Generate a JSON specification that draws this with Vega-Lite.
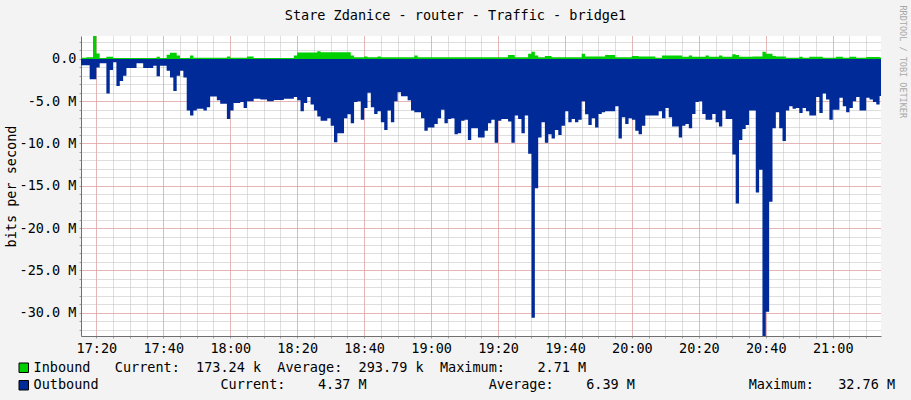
{
  "$schema": "https://vega.github.io/schema/vega-lite/v6.json",
  "width": 800,
  "height": 300,
  "autosize": {"type": "none"},
  "padding": {"left": 81, "top": 36, "right": 30, "bottom": 64},
  "background": "#F3F3F3",
  "config": {
    "font": "DejaVu Sans Mono",
    "view": {"fill": "#FFFFFF", "stroke": null},
    "axis": {"labelFont": "DejaVu Sans Mono", "labelFontSize": 13.5, "labelColor": "#000000", "titleFont": "DejaVu Sans Mono", "titleFontSize": 13.5, "titleFontWeight": "normal", "titleColor": "#000000"}
  },
  "datasets": {
    "outbound": [
      {"t":"2024-01-01T17:15","v":-750000},{"t":"2024-01-01T17:18","v":-2400000},{"t":"2024-01-01T17:20","v":-1000000},{"t":"2024-01-01T17:21","v":-500000},
      {"t":"2024-01-01T17:23","v":-4100000},{"t":"2024-01-01T17:24","v":-1300000},{"t":"2024-01-01T17:25","v":-400000},{"t":"2024-01-01T17:26","v":-3200000},
      {"t":"2024-01-01T17:27","v":-2600000},{"t":"2024-01-01T17:28","v":-2000000},{"t":"2024-01-01T17:29","v":-1060000},{"t":"2024-01-01T17:32","v":-500000},
      {"t":"2024-01-01T17:34","v":-1060000},{"t":"2024-01-01T17:37","v":-800000},{"t":"2024-01-01T17:38","v":-2050000},{"t":"2024-01-01T17:39","v":-800000},
      {"t":"2024-01-01T17:41","v":-1400000},{"t":"2024-01-01T17:42","v":-2200000},{"t":"2024-01-01T17:43","v":-3800000},{"t":"2024-01-01T17:44","v":-2000000},
      {"t":"2024-01-01T17:45","v":-1400000},{"t":"2024-01-01T17:46","v":-2200000},{"t":"2024-01-01T17:47","v":-6100000},{"t":"2024-01-01T17:48","v":-6700000},
      {"t":"2024-01-01T17:49","v":-6100000},{"t":"2024-01-01T17:50","v":-5900000},{"t":"2024-01-01T17:52","v":-6100000},{"t":"2024-01-01T17:53","v":-5700000},
      {"t":"2024-01-01T17:54","v":-4450000},{"t":"2024-01-01T17:56","v":-4900000},{"t":"2024-01-01T17:57","v":-5300000},{"t":"2024-01-01T17:59","v":-7100000},
      {"t":"2024-01-01T18:00","v":-6100000},{"t":"2024-01-01T18:01","v":-5200000},{"t":"2024-01-01T18:03","v":-5100000},{"t":"2024-01-01T18:04","v":-5800000},
      {"t":"2024-01-01T18:05","v":-5000000},{"t":"2024-01-01T18:07","v":-4700000},{"t":"2024-01-01T18:09","v":-4800000},{"t":"2024-01-01T18:11","v":-5000000},
      {"t":"2024-01-01T18:13","v":-4850000},{"t":"2024-01-01T18:16","v":-4700000},{"t":"2024-01-01T18:19","v":-4500000},{"t":"2024-01-01T18:20","v":-4900000},
      {"t":"2024-01-01T18:21","v":-6200000},{"t":"2024-01-01T18:22","v":-5200000},{"t":"2024-01-01T18:23","v":-4500000},{"t":"2024-01-01T18:24","v":-5400000},
      {"t":"2024-01-01T18:25","v":-6100000},{"t":"2024-01-01T18:26","v":-6800000},{"t":"2024-01-01T18:27","v":-7300000},{"t":"2024-01-01T18:29","v":-7000000},
      {"t":"2024-01-01T18:30","v":-7900000},{"t":"2024-01-01T18:31","v":-9850000},{"t":"2024-01-01T18:32","v":-8800000},{"t":"2024-01-01T18:34","v":-7000000},
      {"t":"2024-01-01T18:35","v":-6550000},{"t":"2024-01-01T18:36","v":-7600000},{"t":"2024-01-01T18:37","v":-5100000},{"t":"2024-01-01T18:38","v":-5000000},
      {"t":"2024-01-01T18:39","v":-7200000},{"t":"2024-01-01T18:40","v":-5800000},{"t":"2024-01-01T18:41","v":-4000000},{"t":"2024-01-01T18:42","v":-5700000},
      {"t":"2024-01-01T18:43","v":-6500000},{"t":"2024-01-01T18:44","v":-6200000},{"t":"2024-01-01T18:45","v":-7500000},{"t":"2024-01-01T18:46","v":-8400000},
      {"t":"2024-01-01T18:47","v":-6100000},{"t":"2024-01-01T18:48","v":-7500000},{"t":"2024-01-01T18:49","v":-5000000},{"t":"2024-01-01T18:50","v":-3950000},
      {"t":"2024-01-01T18:51","v":-4400000},{"t":"2024-01-01T18:53","v":-4900000},{"t":"2024-01-01T18:54","v":-6100000},{"t":"2024-01-01T18:55","v":-6300000},
      {"t":"2024-01-01T18:57","v":-7000000},{"t":"2024-01-01T18:58","v":-8500000},{"t":"2024-01-01T18:59","v":-8100000},{"t":"2024-01-01T19:01","v":-7700000},
      {"t":"2024-01-01T19:02","v":-7000000},{"t":"2024-01-01T19:03","v":-6000000},{"t":"2024-01-01T19:04","v":-7600000},{"t":"2024-01-01T19:05","v":-7100000},
      {"t":"2024-01-01T19:06","v":-7000000},{"t":"2024-01-01T19:07","v":-8900000},{"t":"2024-01-01T19:08","v":-8800000},{"t":"2024-01-01T19:09","v":-7300000},
      {"t":"2024-01-01T19:10","v":-7200000},{"t":"2024-01-01T19:11","v":-9600000},{"t":"2024-01-01T19:12","v":-8200000},{"t":"2024-01-01T19:14","v":-9300000},
      {"t":"2024-01-01T19:16","v":-8500000},{"t":"2024-01-01T19:17","v":-7600000},{"t":"2024-01-01T19:18","v":-7200000},{"t":"2024-01-01T19:19","v":-9900000},
      {"t":"2024-01-01T19:20","v":-7300000},{"t":"2024-01-01T19:21","v":-7100000},{"t":"2024-01-01T19:23","v":-7400000},{"t":"2024-01-01T19:24","v":-9900000},
      {"t":"2024-01-01T19:25","v":-6700000},{"t":"2024-01-01T19:26","v":-7100000},{"t":"2024-01-01T19:27","v":-8800000},{"t":"2024-01-01T19:28","v":-6700000},
      {"t":"2024-01-01T19:29","v":-11200000},{"t":"2024-01-01T19:30","v":-30600000},{"t":"2024-01-01T19:31","v":-15300000},{"t":"2024-01-01T19:32","v":-9300000},
      {"t":"2024-01-01T19:33","v":-7500000},{"t":"2024-01-01T19:34","v":-9900000},{"t":"2024-01-01T19:35","v":-8900000},{"t":"2024-01-01T19:36","v":-9400000},
      {"t":"2024-01-01T19:37","v":-8400000},{"t":"2024-01-01T19:38","v":-9000000},{"t":"2024-01-01T19:39","v":-7900000},{"t":"2024-01-01T19:40","v":-6200000},
      {"t":"2024-01-01T19:41","v":-7500000},{"t":"2024-01-01T19:42","v":-7100000},{"t":"2024-01-01T19:43","v":-7500000},{"t":"2024-01-01T19:44","v":-7200000},
      {"t":"2024-01-01T19:45","v":-5000000},{"t":"2024-01-01T19:46","v":-6550000},{"t":"2024-01-01T19:47","v":-7800000},{"t":"2024-01-01T19:48","v":-7000000},
      {"t":"2024-01-01T19:49","v":-8100000},{"t":"2024-01-01T19:50","v":-6500000},{"t":"2024-01-01T19:51","v":-6300000},{"t":"2024-01-01T19:52","v":-6200000},
      {"t":"2024-01-01T19:55","v":-5600000},{"t":"2024-01-01T19:56","v":-9400000},{"t":"2024-01-01T19:57","v":-6900000},{"t":"2024-01-01T19:58","v":-7700000},
      {"t":"2024-01-01T19:59","v":-7000000},{"t":"2024-01-01T20:00","v":-7200000},{"t":"2024-01-01T20:01","v":-8500000},{"t":"2024-01-01T20:02","v":-8900000},
      {"t":"2024-01-01T20:03","v":-7900000},{"t":"2024-01-01T20:04","v":-6700000},{"t":"2024-01-01T20:08","v":-6200000},{"t":"2024-01-01T20:09","v":-7000000},
      {"t":"2024-01-01T20:10","v":-5800000},{"t":"2024-01-01T20:11","v":-6900000},{"t":"2024-01-01T20:12","v":-8000000},{"t":"2024-01-01T20:14","v":-9300000},
      {"t":"2024-01-01T20:15","v":-7900000},{"t":"2024-01-01T20:16","v":-7700000},{"t":"2024-01-01T20:17","v":-8200000},{"t":"2024-01-01T20:18","v":-6500000},
      {"t":"2024-01-01T20:19","v":-5100000},{"t":"2024-01-01T20:20","v":-5000000},{"t":"2024-01-01T20:21","v":-6500000},{"t":"2024-01-01T20:22","v":-7200000},
      {"t":"2024-01-01T20:24","v":-6500000},{"t":"2024-01-01T20:25","v":-7500000},{"t":"2024-01-01T20:26","v":-8000000},{"t":"2024-01-01T20:27","v":-6100000},
      {"t":"2024-01-01T20:28","v":-7100000},{"t":"2024-01-01T20:30","v":-11300000},{"t":"2024-01-01T20:31","v":-17100000},{"t":"2024-01-01T20:32","v":-9600000},
      {"t":"2024-01-01T20:33","v":-8300000},{"t":"2024-01-01T20:34","v":-7800000},{"t":"2024-01-01T20:35","v":-6100000},{"t":"2024-01-01T20:37","v":-15800000},
      {"t":"2024-01-01T20:38","v":-13100000},{"t":"2024-01-01T20:39","v":-32760000},{"t":"2024-01-01T20:40","v":-29900000},{"t":"2024-01-01T20:41","v":-16900000},
      {"t":"2024-01-01T20:42","v":-8200000},{"t":"2024-01-01T20:43","v":-6300000},{"t":"2024-01-01T20:44","v":-8200000},{"t":"2024-01-01T20:45","v":-9700000},
      {"t":"2024-01-01T20:46","v":-6100000},{"t":"2024-01-01T20:47","v":-5600000},{"t":"2024-01-01T20:48","v":-5900000},{"t":"2024-01-01T20:49","v":-5800000},
      {"t":"2024-01-01T20:50","v":-6400000},{"t":"2024-01-01T20:51","v":-5800000},{"t":"2024-01-01T20:52","v":-6200000},{"t":"2024-01-01T20:53","v":-6700000},
      {"t":"2024-01-01T20:55","v":-4500000},{"t":"2024-01-01T20:56","v":-6400000},{"t":"2024-01-01T20:57","v":-4100000},{"t":"2024-01-01T20:58","v":-4800000},
      {"t":"2024-01-01T20:59","v":-7200000},{"t":"2024-01-01T21:00","v":-6000000},{"t":"2024-01-01T21:02","v":-4600000},{"t":"2024-01-01T21:03","v":-5600000},
      {"t":"2024-01-01T21:04","v":-6300000},{"t":"2024-01-01T21:05","v":-5800000},{"t":"2024-01-01T21:06","v":-5000000},{"t":"2024-01-01T21:07","v":-4500000},
      {"t":"2024-01-01T21:08","v":-6100000},{"t":"2024-01-01T21:10","v":-4600000},{"t":"2024-01-01T21:11","v":-4800000},{"t":"2024-01-01T21:12","v":-5100000},
      {"t":"2024-01-01T21:13","v":-5400000},{"t":"2024-01-01T21:14","v":-4370000},{"t":"2024-01-01T21:15","v":-4370000}
    ],
    "inbound": [
      {"t":"2024-01-01T17:15","v":150000},{"t":"2024-01-01T17:17","v":200000},{"t":"2024-01-01T17:19","v":2710000},{"t":"2024-01-01T17:20","v":650000},
      {"t":"2024-01-01T17:21","v":100000},{"t":"2024-01-01T17:23","v":250000},{"t":"2024-01-01T17:25","v":100000},{"t":"2024-01-01T17:38","v":250000},
      {"t":"2024-01-01T17:39","v":100000},{"t":"2024-01-01T17:41","v":500000},{"t":"2024-01-01T17:42","v":740000},{"t":"2024-01-01T17:44","v":400000},
      {"t":"2024-01-01T17:45","v":100000},{"t":"2024-01-01T17:48","v":400000},{"t":"2024-01-01T17:49","v":150000},{"t":"2024-01-01T17:59","v":300000},
      {"t":"2024-01-01T18:00","v":150000},{"t":"2024-01-01T18:05","v":300000},{"t":"2024-01-01T18:07","v":120000},{"t":"2024-01-01T18:19","v":400000},
      {"t":"2024-01-01T18:20","v":750000},{"t":"2024-01-01T18:26","v":900000},{"t":"2024-01-01T18:27","v":780000},{"t":"2024-01-01T18:36","v":400000},
      {"t":"2024-01-01T18:37","v":200000},{"t":"2024-01-01T18:40","v":300000},{"t":"2024-01-01T18:41","v":200000},{"t":"2024-01-01T18:44","v":300000},
      {"t":"2024-01-01T18:45","v":200000},{"t":"2024-01-01T18:55","v":400000},{"t":"2024-01-01T18:56","v":200000},{"t":"2024-01-01T19:23","v":450000},
      {"t":"2024-01-01T19:25","v":200000},{"t":"2024-01-01T19:29","v":600000},{"t":"2024-01-01T19:30","v":850000},{"t":"2024-01-01T19:31","v":400000},
      {"t":"2024-01-01T19:32","v":200000},{"t":"2024-01-01T19:34","v":350000},{"t":"2024-01-01T19:36","v":200000},{"t":"2024-01-01T19:45","v":600000},
      {"t":"2024-01-01T19:46","v":300000},{"t":"2024-01-01T19:52","v":450000},{"t":"2024-01-01T19:55","v":200000},{"t":"2024-01-01T20:00","v":350000},
      {"t":"2024-01-01T20:02","v":300000},{"t":"2024-01-01T20:07","v":150000},{"t":"2024-01-01T20:09","v":400000},{"t":"2024-01-01T20:15","v":250000},
      {"t":"2024-01-01T20:17","v":400000},{"t":"2024-01-01T20:18","v":250000},{"t":"2024-01-01T20:22","v":400000},{"t":"2024-01-01T20:23","v":250000},
      {"t":"2024-01-01T20:26","v":400000},{"t":"2024-01-01T20:27","v":250000},{"t":"2024-01-01T20:30","v":550000},{"t":"2024-01-01T20:31","v":450000},
      {"t":"2024-01-01T20:32","v":250000},{"t":"2024-01-01T20:36","v":300000},{"t":"2024-01-01T20:39","v":860000},{"t":"2024-01-01T20:40","v":600000},
      {"t":"2024-01-01T20:42","v":350000},{"t":"2024-01-01T20:43","v":280000},{"t":"2024-01-01T20:46","v":150000},{"t":"2024-01-01T20:50","v":250000},
      {"t":"2024-01-01T20:51","v":150000},{"t":"2024-01-01T20:53","v":250000},{"t":"2024-01-01T20:57","v":150000},{"t":"2024-01-01T21:01","v":250000},
      {"t":"2024-01-01T21:03","v":150000},{"t":"2024-01-01T21:05","v":250000},{"t":"2024-01-01T21:07","v":150000},{"t":"2024-01-01T21:10","v":220000},
      {"t":"2024-01-01T21:14","v":173240},{"t":"2024-01-01T21:15","v":173240}
    ]
  },
  "layer": [
    {
      "data": {"name": "outbound"},
      "mark": {"type": "area", "interpolate": "step-after", "clip": true, "opacity": 1},
      "encoding": {
        "x": {
          "field": "t", "type": "temporal",
          "scale": {"domain": [{"year": 2024, "month": 1, "date": 1, "hours": 17, "minutes": 15, "seconds": 25}, {"year": 2024, "month": 1, "date": 1, "hours": 21, "minutes": 14, "seconds": 25}]},
          "axis": {
            "orient": "bottom", "title": null, "labels": false,
            "tickCount": 48,
            "grid": true, "gridDash": [1, 1], "gridColor": "#BDBDBD",
            "ticks": true, "tickSize": 2, "tickColor": "#A0A0A0",
            "domain": true, "domainColor": "#707070"
          }
        },
        "y": {
          "field": "v", "type": "quantitative",
          "scale": {"domain": [-32760000, 2710000], "nice": false},
          "axis": {
            "orient": "left", "title": null, "labels": false,
            "values": [2000000, 1000000, 0, -1000000, -2000000, -3000000, -4000000, -5000000, -6000000, -7000000, -8000000, -9000000, -10000000, -11000000, -12000000, -13000000, -14000000, -15000000, -16000000, -17000000, -18000000, -19000000, -20000000, -21000000, -22000000, -23000000, -24000000, -25000000, -26000000, -27000000, -28000000, -29000000, -30000000, -31000000, -32000000],
            "grid": true, "gridDash": [1, 1], "gridColor": "#BDBDBD",
            "ticks": true, "tickSize": 2, "tickColor": "#A0A0A0",
            "domain": true, "domainColor": "#707070"
          }
        },
        "color": {
          "datum": "Outbound",
          "scale": {"domain": ["Inbound", "Outbound"], "range": ["#00CF00", "#002A97"]},
          "legend": {
            "orient": "none", "legendX": -64, "legendY": 325, "direction": "vertical", "title": null,
            "padding": 0, "symbolType": "square", "symbolSize": 90, "symbolStrokeColor": "#000000", "symbolStrokeWidth": 1,
            "labelFont": "DejaVu Sans Mono", "labelFontSize": 13.5, "labelColor": "#000000", "labelLimit": 2000, "labelOffset": 3, "rowPadding": 2.5,
            "labelExpr": "datum.label == 'Inbound' ? 'Inbound\u00a0\u00a0\u00a0Current:\u00a0\u00a0173.24\u00a0k\u00a0\u00a0Average:\u00a0\u00a0293.79\u00a0k\u00a0\u00a0Maximum:\u00a0\u00a0\u00a0\u00a02.71\u00a0M' : 'Outbound\u00a0\u00a0\u00a0\u00a0\u00a0\u00a0\u00a0\u00a0\u00a0\u00a0\u00a0\u00a0\u00a0\u00a0\u00a0Current:\u00a0\u00a0\u00a0\u00a04.37\u00a0M\u00a0\u00a0\u00a0\u00a0\u00a0\u00a0\u00a0\u00a0\u00a0\u00a0\u00a0\u00a0\u00a0\u00a0\u00a0Average:\u00a0\u00a0\u00a0\u00a06.39\u00a0M\u00a0\u00a0\u00a0\u00a0\u00a0\u00a0\u00a0\u00a0\u00a0\u00a0\u00a0\u00a0\u00a0\u00a0Maximum:\u00a0\u00a0\u00a032.76\u00a0M'"
          }
        }
      }
    },
    {
      "data": {"name": "inbound"},
      "mark": {"type": "area", "interpolate": "step-after", "clip": true, "opacity": 1},
      "encoding": {
        "x": {
          "field": "t", "type": "temporal",
          "scale": {"domain": [{"year": 2024, "month": 1, "date": 1, "hours": 17, "minutes": 15, "seconds": 25}, {"year": 2024, "month": 1, "date": 1, "hours": 21, "minutes": 14, "seconds": 25}]},
          "axis": {
            "orient": "bottom", "title": null,
            "values": [
              {"year": 2024, "month": 1, "date": 1, "hours": 17, "minutes": 20}, {"year": 2024, "month": 1, "date": 1, "hours": 17, "minutes": 40},
              {"year": 2024, "month": 1, "date": 1, "hours": 18, "minutes": 0}, {"year": 2024, "month": 1, "date": 1, "hours": 18, "minutes": 20},
              {"year": 2024, "month": 1, "date": 1, "hours": 18, "minutes": 40}, {"year": 2024, "month": 1, "date": 1, "hours": 19, "minutes": 0},
              {"year": 2024, "month": 1, "date": 1, "hours": 19, "minutes": 20}, {"year": 2024, "month": 1, "date": 1, "hours": 19, "minutes": 40},
              {"year": 2024, "month": 1, "date": 1, "hours": 20, "minutes": 0}, {"year": 2024, "month": 1, "date": 1, "hours": 20, "minutes": 20},
              {"year": 2024, "month": 1, "date": 1, "hours": 20, "minutes": 40}, {"year": 2024, "month": 1, "date": 1, "hours": 21, "minutes": 0}
            ],
            "format": "%H:%M",
            "grid": true, "gridDash": [1, 1], "gridColor": "#EE8F8F",
            "ticks": false, "domain": false,
            "labelPadding": 5, "labelFlush": false, "labelOverlap": false
          }
        },
        "y": {
          "field": "v", "type": "quantitative",
          "scale": {"domain": [-32760000, 2710000], "nice": false},
          "axis": {
            "orient": "left",
            "values": [0, -5000000, -10000000, -15000000, -20000000, -25000000, -30000000],
            "grid": true, "gridDash": [1, 1], "gridColor": "#EE8F8F",
            "ticks": false, "domain": false,
            "labelExpr": "datum.value == 0 ? '0.0' : '-' + format(-datum.value / 1000000, '.1f') + ' M'",
            "labelPadding": 5, "labelOverlap": false,
            "title": "bits per second", "titleAngle": -90, "titleX": -66, "titleY": 150, "titleAlign": "center", "titleBaseline": "alphabetic"
          }
        },
        "color": {"datum": "Inbound"}
      }
    },
    {
      "data": {"name": "inbound"},
      "mark": {"type": "area", "interpolate": "step-after", "clip": true, "opacity": 0},
      "encoding": {
        "x": {
          "field": "t", "type": "temporal",
          "scale": {"domain": [{"year": 2024, "month": 1, "date": 1, "hours": 17, "minutes": 15, "seconds": 25}, {"year": 2024, "month": 1, "date": 1, "hours": 21, "minutes": 14, "seconds": 25}]},
          "axis": {
            "orient": "top", "labels": false, "ticks": false, "domain": false, "grid": false,
            "title": "Stare Zdanice - router - Traffic - bridge1",
            "titleX": 374, "titleY": -17, "titleAlign": "center", "titleBaseline": "alphabetic", "titleAngle": 0
          }
        },
        "y": {
          "field": "v", "type": "quantitative",
          "scale": {"domain": [-32760000, 2710000], "nice": false},
          "axis": {
            "orient": "right", "labels": false, "ticks": false, "domain": false, "grid": false,
            "title": "RRDTOOL / TOBI OETIKER",
            "titleAngle": 90, "titleX": 18, "titleY": -31, "titleAlign": "left", "titleBaseline": "alphabetic",
            "titleFontSize": 8.5, "titleColor": "#A8A8A8"
          }
        }
      }
    }
  ],
  "resolve": {"axis": {"x": "independent", "y": "independent"}}
}
